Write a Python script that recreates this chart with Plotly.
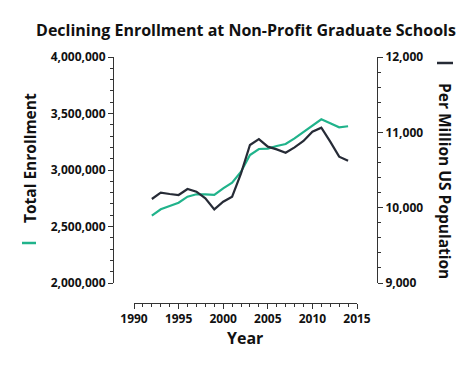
import plotly.graph_objects as go

years = list(range(1992, 2015))
enrollment = [2596000, 2652000, 2681000, 2711000, 2764000, 2785000, 2785000, 2779000,
              2838000, 2888000, 2985000, 3133000, 3186000, 3189000, 3212000, 3230000,
              3280000, 3334000, 3392000, 3449000, 3413000, 3378000, 3387000]
per_million = [10115, 10199, 10181, 10168, 10248, 10212, 10124, 9978,
               10079, 10146, 10456, 10832, 10911, 10810, 10774, 10730,
               10801, 10885, 11009, 11062, 10876, 10677, 10623]

title_text = "Declining Enrollment at Non-Profit Graduate Schools"
left_title = "Total Enrollment"
right_title = "Per Million US Population"
x_title = "Year"

GREEN = "#20b38b"
DARK = "#262b36"
AX = "#333333"

# page body offset (default 8px body margin)
OX, OY = 8, 8
W, H = 474 - OX, 366 - OY
L, R, T, B = 113 - OX, 377 - OX, 57 - OY, 303 - OY
PW, PH = R - L, B - T

def px(x):
    return (x - OX - L) / PW

def py(y):
    return (B - (y - OY)) / PH

fig = go.Figure()
fig.add_trace(go.Scatter(x=years, y=enrollment, mode="lines",
                         line=dict(color=GREEN, width=2.2), yaxis="y", hoverinfo="skip"))
fig.add_trace(go.Scatter(x=years, y=per_million, mode="lines",
                         line=dict(color=DARK, width=2.2), yaxis="y2", hoverinfo="skip"))

tickfont = dict(family="Open Sans", size=12, color="#111111", weight="bold")
common = dict(showgrid=False, zeroline=False, showline=True, linecolor=AX, linewidth=1,
              ticks="outside", ticklen=5, tickcolor=AX, tickwidth=1, tickfont=tickfont)

fig.update_layout(
    width=W, height=H,
    margin=dict(l=L, r=W - R, t=T, b=H - B),
    paper_bgcolor="white", plot_bgcolor="white",
    showlegend=False,
    title=dict(text=title_text, x=(246 - OX) / W, xref="container", xanchor="center",
               y=1 - (30 - OY) / H, yref="container", yanchor="middle",
               font=dict(family="Open Sans", size=16, color="#111111", weight="bold")),
    xaxis=dict(range=[1990, 2015], domain=[px(134), px(357)], anchor="free", position=0,
               tickmode="linear", tick0=1990, dtick=5,
               minor=dict(dtick=1, ticks="outside", ticklen=3, tickcolor=AX),
               **common),
    yaxis=dict(range=[2000000, 4000000], domain=[py(283), 1], anchor="free", position=0,
               tickmode="linear", tick0=2000000, dtick=500000, tickformat=",d",
               minor=dict(dtick=100000, ticks="outside", ticklen=3, tickcolor=AX),
               **common),
    yaxis2=dict(range=[9000, 12000], domain=[py(283), 1], anchor="free", position=1,
                overlaying="y", side="right",
                tickmode="linear", tick0=9000, dtick=1000, tickformat=",d",
                minor=dict(dtick=200, ticks="outside", ticklen=3, tickcolor=AX),
                **common),
    annotations=[
        dict(text=left_title, xref="paper", yref="paper", x=px(30), y=py(158),
             xanchor="center", yanchor="middle", textangle=-90, showarrow=False,
             font=dict(family="Open Sans", size=15.5, color="#111111", weight="bold")),
        dict(text=right_title, xref="paper", yref="paper", x=px(445), y=py(181),
             xanchor="center", yanchor="middle", textangle=90, showarrow=False,
             font=dict(family="Open Sans", size=15.5, color="#111111", weight="bold")),
        dict(text=x_title, xref="paper", yref="paper", x=px(245), y=py(338),
             xanchor="center", yanchor="middle", showarrow=False,
             font=dict(family="Open Sans", size=16, color="#111111", weight="bold")),
    ],
    shapes=[
        dict(type="line", xref="paper", yref="paper", x0=px(22), x1=px(36), y0=py(243), y1=py(243),
             line=dict(color=GREEN, width=2.5)),
        dict(type="line", xref="paper", yref="paper", x0=px(437), x1=px(453), y0=py(63), y1=py(63),
             line=dict(color=DARK, width=2.5)),
    ],
)

fig.write_html("out.html")
